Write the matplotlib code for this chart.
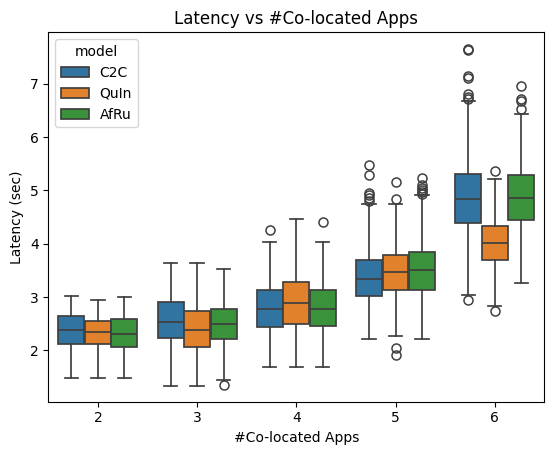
import matplotlib
matplotlib.use("Agg")
import matplotlib.pyplot as plt
from matplotlib.patches import Patch
import numpy as np

apps = ["2", "3", "4", "5", "6"]
models = ["C2C", "QuIn", "AfRu"]
colors = ["#3274a1", "#e1812c", "#3a923a"]
line_color = "#3f3f3f"

# per model: one value per #co-located apps group
q1 = {
    "C2C": [2.11, 2.23, 2.43, 3.01, 4.38],
    "QuIn": [2.11, 2.07, 2.49, 3.13, 3.70],
    "AfRu": [2.07, 2.22, 2.45, 3.14, 4.45],
}
med = {
    "C2C": [2.39, 2.54, 2.78, 3.33, 4.83],
    "QuIn": [2.34, 2.39, 2.88, 3.46, 4.01],
    "AfRu": [2.30, 2.50, 2.78, 3.50, 4.85],
}
q3 = {
    "C2C": [2.64, 2.91, 3.14, 3.70, 5.30],
    "QuIn": [2.55, 2.74, 3.29, 3.79, 4.33],
    "AfRu": [2.58, 2.78, 3.14, 3.85, 5.28],
}
whislo = {
    "C2C": [1.49, 1.34, 1.69, 2.22, 3.04],
    "QuIn": [1.49, 1.34, 1.69, 2.26, 2.83],
    "AfRu": [1.49, 1.44, 1.69, 2.22, 3.27],
}
whishi = {
    "C2C": [3.01, 3.63, 4.04, 4.74, 6.68],
    "QuIn": [2.95, 3.63, 4.47, 4.74, 5.21],
    "AfRu": [3.00, 3.52, 4.04, 4.92, 6.43],
}
fliers = {
    "C2C": [[], [], [4.25], [5.48, 5.28, 4.96, 4.91, 4.85, 4.81],
            [7.64, 7.65, 7.15, 7.10, 6.80, 6.76, 6.72, 2.94]],
    "QuIn": [[], [], [], [5.15, 4.84, 2.04, 1.92], [5.37, 2.74]],
    "AfRu": [[], [1.35], [4.41], [5.23, 5.11, 5.05, 5.00, 4.97, 4.94],
             [6.95, 6.72, 6.68, 6.52]],
}

fig = plt.figure(figsize=(5.54, 4.55), dpi=100)
ax = fig.add_axes([0.0872, 0.117, 0.8953, 0.812])

width = 0.8 / len(models)
x = np.arange(len(apps))
for i, m in enumerate(models):
    stats = []
    for j in range(len(apps)):
        stats.append(dict(med=med[m][j], q1=q1[m][j], q3=q3[m][j],
                          whislo=whislo[m][j], whishi=whishi[m][j],
                          fliers=fliers[m][j]))
    pos = x - 0.4 + width * (i + 0.5)
    ax.bxp(stats, positions=pos, widths=width * 0.98, capwidths=width / 2,
           patch_artist=True, manage_ticks=False,
           boxprops=dict(facecolor=colors[i], edgecolor=line_color, linewidth=1.25),
           medianprops=dict(color=line_color, linewidth=1.25),
           whiskerprops=dict(color=line_color, linewidth=1.25),
           capprops=dict(color=line_color, linewidth=1.25),
           flierprops=dict(marker="o", markerfacecolor="none",
                           markeredgecolor=line_color, markersize=6.5,
                           markeredgewidth=1.1))

ax.set_xticks(x)
ax.set_xticklabels(apps)
ax.set_xlim(-0.5, 4.5)
ax.set_ylim(1.035, 7.965)
ax.set_yticks([2, 3, 4, 5, 6, 7])
ax.set_title("Latency vs #Co-located Apps")
ax.set_xlabel("#Co-located Apps")
ax.set_ylabel("Latency (sec)")

handles = [Patch(facecolor=c, edgecolor=line_color, linewidth=1.25, label=m)
           for m, c in zip(models, colors)]
ax.legend(handles=handles, title="model", loc="upper left")

fig.savefig("out.png", dpi=100)
